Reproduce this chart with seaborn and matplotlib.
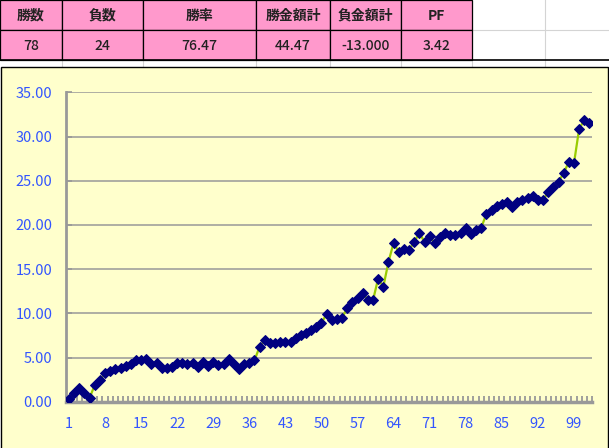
import matplotlib
matplotlib.use("Agg")
import matplotlib.pyplot as plt
from matplotlib.patches import Rectangle
import numpy as np
import pandas as pd
import seaborn as sns

# summary table (top of sheet)
header_labels = ["勝数", "負数", "勝率", "勝金額計", "負金額計", "PF"]
header_values = ["78", "24", "76.47", "44.47", "-13.000", "3.42"]
col_edges = [0, 62, 143, 256, 330, 401, 472]

# cumulative profit per trade
trade_no = list(range(1, 103))
cum_profit = [
    0.31, 0.95, 1.55, 0.95, 0.42, 1.89, 2.45, 3.21, 3.51, 3.66,
    3.85, 4.00, 4.30, 4.72, 4.75, 4.80, 4.30, 4.40, 3.80, 3.85,
    3.89, 4.41, 4.41, 4.23, 4.41, 3.89, 4.45, 4.04, 4.49, 4.11,
    4.23, 4.79, 4.23, 3.70, 4.23, 4.34, 4.68, 6.22, 6.98, 6.60,
    6.60, 6.70, 6.75, 6.80, 7.20, 7.50, 7.80, 8.10, 8.45, 8.94,
    9.90, 9.24, 9.32, 9.50, 10.62, 11.33, 11.75, 12.35, 11.47, 11.47,
    13.93, 13.00, 15.80, 17.99, 16.90, 17.27, 17.16, 18.07, 19.08, 18.07,
    18.71, 17.92, 18.63, 19.08, 18.89, 18.89, 19.12, 19.65, 18.97, 19.42,
    19.68, 21.23, 21.65, 22.17, 22.40, 22.55, 21.99, 22.59, 22.82, 23.08,
    23.23, 22.82, 22.82, 23.69, 24.25, 24.89, 25.87, 27.11, 26.96, 30.85,
    31.87, 31.49,
]
x_labels = list(range(1, 100, 7))
y_ticks = [0, 5, 10, 15, 20, 25, 30, 35]

df = pd.DataFrame({"trade": trade_no, "profit": cum_profit})

W, H = 609, 448
fig = plt.figure(figsize=(W / 100, H / 100), dpi=100)
jp = ["Noto Sans CJK JP", "DejaVu Sans"]

# sheet layer in pixel coordinates
bg = fig.add_axes([0, 0, 1, 1], zorder=0)
bg.set_xlim(0, W)
bg.set_ylim(H, 0)
bg.axis("off")

# faint spreadsheet grid
for gx in [62, 143, 256, 330, 401, 472, 545]:
    bg.plot([gx, gx], [0, 67], color="#d4d4d4", lw=0.8, zorder=0)
bg.plot([472, W], [30, 30], color="#d4d4d4", lw=0.8, zorder=0)

# pink table cells
for i, (lab, val) in enumerate(zip(header_labels, header_values)):
    x0, x1 = col_edges[i], col_edges[i + 1]
    for r, (y0, txt) in enumerate([(0, lab), (30, val)]):
        bg.add_patch(Rectangle((x0, y0), x1 - x0, 30, facecolor="#ff99cc",
                               edgecolor="black", lw=0.9, zorder=1))
        bg.text((x0 + x1) / 2, y0 + 15.5, txt, ha="center", va="center",
                fontsize=10, family=jp, weight="bold" if r == 0 else "medium",
                color="#222222", zorder=2)
bg.plot([0, W], [60, 60], color="black", lw=1.2, zorder=2)

# chart area
bg.add_patch(Rectangle((0.5, 67), W - 1.5, H, facecolor="#ffffcc",
                       edgecolor="black", lw=1.0, zorder=1))

# plot area
left, right = 66.4, 592.0
top, bottom = 92.3, 401.7
ax = fig.add_axes([left / W, 1 - bottom / H, (right - left) / W, (bottom - top) / H], zorder=2)
ax.set_facecolor("none")

sns.lineplot(data=df, x="trade", y="profit", ax=ax, color="#99cc00", lw=1.6,
             marker="D", markersize=4.6, markerfacecolor="#000080",
             markeredgecolor="#000080", zorder=3)

ax.set_xlim(0.5, 102.5)
ax.set_ylim(0, 35)
ax.set_yticks(y_ticks)
ax.set_yticklabels([f"{v:.2f}" for v in y_ticks])
ax.set_xticks(x_labels)
ax.set_xticklabels([str(v) for v in x_labels])
ax.set_xticks(np.arange(0.5, 103, 1), minor=True)
ax.set_xlabel("")
ax.set_ylabel("")

for v in y_ticks[1:]:
    ax.axhline(v, color="#999999", lw=1.1, zorder=1)

for s in ["top", "right"]:
    ax.spines[s].set_visible(False)
ax.spines["left"].set_color("#999999")
ax.spines["left"].set_linewidth(2)
ax.spines["bottom"].set_color("#999999")
ax.spines["bottom"].set_linewidth(2.5)

ax.tick_params(axis="y", direction="in", length=4, width=1.2, color="#999999",
               labelcolor="#3355ff", labelsize=10.5, pad=10)
ax.tick_params(axis="x", which="major", length=0, labelcolor="#3355ff",
               labelsize=10.5, pad=11)
ax.tick_params(axis="x", which="minor", direction="in", length=4, width=1.3,
               color="#999999")
for lab in ax.get_xticklabels() + ax.get_yticklabels():
    lab.set_family(jp)

fig.savefig("out.png", dpi=100)
